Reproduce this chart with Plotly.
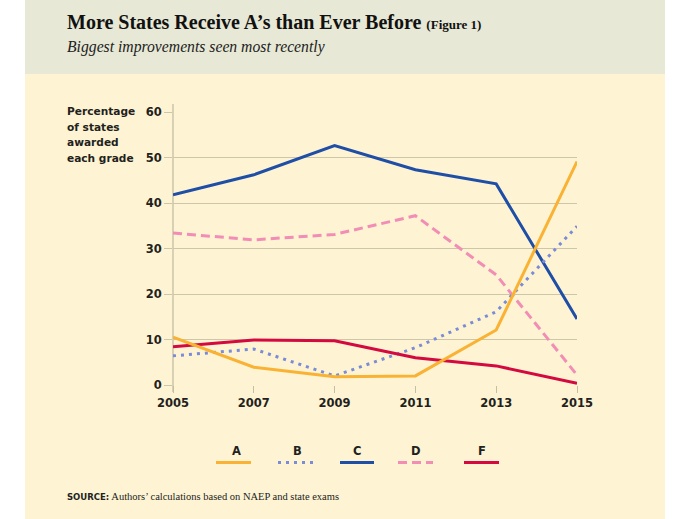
import plotly.graph_objects as go

years = [2005, 2007, 2009, 2011, 2013, 2015]
grade_a = [10.5, 3.9, 1.8, 2.0, 12.1, 49.1]
grade_b = [6.4, 7.9, 2.0, 8.2, 16.1, 34.9]
grade_c = [41.8, 46.2, 52.6, 47.3, 44.2, 14.5]
grade_d = [33.4, 31.9, 33.1, 37.2, 24.2, 2.2]
grade_f = [8.4, 9.9, 9.7, 6.0, 4.2, 0.4]
series_names = ["A", "B", "C", "D", "F"]
y_ticks = [0, 10, 20, 30, 40, 50, 60]
y_title_lines = ["Percentage", "of states", "awarded", "each grade"]

colors = {"A": "#F9B233", "B": "#7A8BD8", "C": "#1F4EA6", "D": "#F28DB5", "F": "#D3093F"}
dashes = {"A": "solid", "B": "3px,5px", "C": "solid", "D": "9px,5px", "F": "solid"}
data = {"A": grade_a, "B": grade_b, "C": grade_c, "D": grade_d, "F": grade_f}

SANS = "DejaVu Sans"
SERIF = "Liberation Serif"
TXT = "#231F20"

W, H = 690, 519
L, R, T, B = 173, 577, 112, 385

fig = go.Figure()
order = ["D", "C", "B", "F", "A"]
for name in order:
    fig.add_trace(go.Scatter(
        x=years, y=data[name], mode="lines", name=name,
        line=dict(color=colors[name], width=3, dash=dashes[name]),
        showlegend=False, hoverinfo="skip"))

def px(x):
    return (x - L) / (R - L)

def py(y):
    return (B - y) / (B - T)

shapes = []
HDR = 74
shapes.append(dict(type="rect", xref="paper", yref="paper", x0=px(25), x1=px(665), y0=py(519), y1=py(HDR),
                   fillcolor="#FEF4D3", line=dict(width=0), layer="below"))
shapes.append(dict(type="rect", xref="paper", yref="paper", x0=px(25), x1=px(665), y0=py(HDR), y1=py(0),
                   fillcolor="#E7E8D5", line=dict(width=0), layer="below"))
shapes.append(dict(type="line", xref="paper", yref="paper", x0=0, x1=0, y0=py(392), y1=py(104),
                   line=dict(color="#C4BEA2", width=1.3), layer="below"))

legend_items = [("A", 236, 216, 251), ("B", 297, 278, 314), ("C", 357, 340, 374),
                ("D", 416, 398, 433), ("F", 482, 464, 499)]
annotations = []
for name, tx, x0, x1 in legend_items:
    annotations.append(dict(text="<b>" + name + "</b>", xref="paper", yref="paper", x=px(tx), y=py(451),
                            showarrow=False, xanchor="center", yanchor="middle",
                            font=dict(family=SANS, size=11.5, color=TXT)))
    shapes.append(dict(type="line", xref="paper", yref="paper", x0=px(x0), x1=px(x1),
                       y0=py(462.5), y1=py(462.5),
                       line=dict(color=colors[name], width=3, dash=dashes[name])))

annotations.append(dict(text="<b>More States Receive A’s than Ever Before</b> <b><span style='font-size:13px'>(Figure 1)</span></b>",
                        xref="paper", yref="paper", x=px(65), y=py(22), showarrow=False,
                        xanchor="left", yanchor="middle",
                        font=dict(family=SERIF, size=20, color="#111111")))
annotations.append(dict(text="<i>Biggest improvements seen most recently</i>",
                        xref="paper", yref="paper", x=px(65), y=py(47), showarrow=False,
                        xanchor="left", yanchor="middle",
                        font=dict(family=SERIF, size=15.7, color="#222222")))
for i, line in enumerate(y_title_lines):
    annotations.append(dict(text="<b>" + line + "</b>",
                            xref="paper", yref="paper", x=px(65), y=py(111 + i * 15.7), showarrow=False,
                            xanchor="left", yanchor="middle", align="left",
                            font=dict(family=SANS, size=10.6, color=TXT)))
annotations.append(dict(text="<span style='font-family:DejaVu Sans;font-size:8.5px'><b>SOURCE:</b></span> Authors’ calculations based on NAEP and state exams",
                        xref="paper", yref="paper", x=px(65), y=py(497), showarrow=False,
                        xanchor="left", yanchor="middle",
                        font=dict(family=SERIF, size=10.5, color="#222222")))

fig.update_layout(
    width=W, height=H,
    margin=dict(l=L, r=W - R, t=T, b=H - B, pad=0),
    paper_bgcolor="white", plot_bgcolor="rgba(0,0,0,0)",
    shapes=shapes, annotations=annotations,
    xaxis=dict(range=[2005, 2015], tickvals=years, ticktext=["<b>%d</b>" % y for y in years],
               showgrid=False, zeroline=False, showline=False,
               ticks="outside", ticklen=7, tickcolor="#C4BEA2", tickwidth=1.3,
               tickfont=dict(family=SANS, size=11.5, color=TXT)),
    yaxis=dict(range=[0, 60], tickvals=y_ticks, ticktext=["<b>%d</b>" % v for v in y_ticks],
               showgrid=True, gridcolor="#CDC7AA", gridwidth=1.3,
               zeroline=False, showline=False,
               ticks="outside", ticklen=8, tickcolor="#CDC7AA", tickwidth=1.3,
               tickfont=dict(family=SANS, size=11.5, color=TXT)),
)

fig.write_html("out.html", config={"displayModeBar": False},
               post_script="document.body.style.margin='0';document.body.style.padding='0';")
